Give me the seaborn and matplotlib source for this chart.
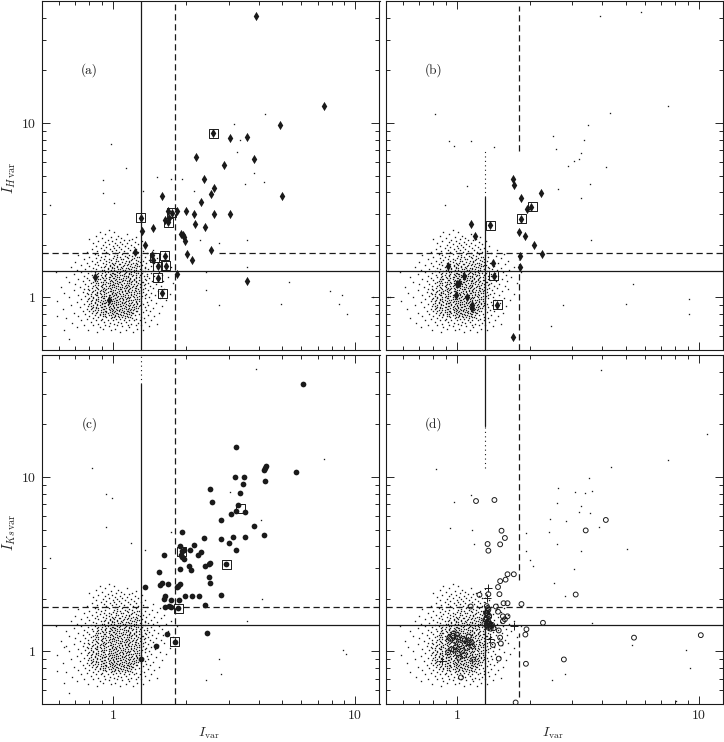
import pandas as pd
import matplotlib
matplotlib.use("Agg")
import matplotlib.pyplot as plt
import seaborn as sns
from matplotlib.ticker import NullFormatter

# shared faint population, read row by row off the stipple (y level: x values)
CLOUD_ROWS = {
    0.63: [1.07], 0.638: [0.86, 1.21], 0.647: [0.98, 1.33], 0.655: [0.79, 1.13], 0.664: [1.02, 1.26, 0.91],
    0.673: [0.71, 0.88, 1.17], 0.682: [0.96, 1.09, 1.41], 0.691: [0.83, 1.04, 1.24], 0.70: [0.76, 0.93, 1.15, 1.31],
    0.709: [0.87, 1.01, 1.19, 1.52], 0.718: [0.68, 0.97, 1.08, 1.27], 0.728: [0.81, 0.92, 1.05, 1.13, 1.36],
    0.738: [0.74, 0.89, 1.00, 1.22, 1.29], 0.747: [0.85, 0.95, 1.11, 1.16, 1.44], 0.757: [0.78, 0.90, 1.03, 1.07, 1.25],
    0.767: [0.64, 0.83, 0.98, 1.12, 1.20, 1.34], 0.777: [0.87, 0.94, 1.01, 1.09, 1.18, 1.30], 0.788: [0.72, 0.80, 0.91, 1.05, 1.14, 1.48],
    0.798: [0.84, 0.96, 1.02, 1.10, 1.23, 1.39], 0.809: [0.77, 0.88, 0.93, 1.07, 1.16, 1.28], 0.82: [0.69, 0.82, 0.99, 1.04, 1.13, 1.21, 1.55],
    0.83: [0.86, 0.91, 0.97, 1.08, 1.19, 1.33], 0.841: [0.75, 0.80, 0.94, 1.02, 1.11, 1.15, 1.26, 1.42], 0.853: [0.84, 0.89, 1.00, 1.06, 1.18, 1.37],
    0.864: [0.62, 0.78, 0.92, 0.96, 1.03, 1.13, 1.22, 1.31], 0.875: [0.82, 0.87, 0.98, 1.09, 1.16, 1.27, 1.47], 0.887: [0.73, 0.85, 0.90, 1.01, 1.05, 1.20, 1.35],
    0.899: [0.79, 0.93, 0.97, 1.08, 1.12, 1.24, 1.60], 0.911: [0.67, 0.83, 0.88, 1.00, 1.15, 1.18, 1.29, 1.40], 0.923: [0.76, 0.86, 0.95, 1.03, 1.07, 1.22, 1.33],
    0.935: [0.81, 0.90, 0.92, 0.99, 1.11, 1.17, 1.26, 1.51], 0.947: [0.71, 0.84, 0.94, 1.05, 1.09, 1.20, 1.38], 0.96: [0.59, 0.78, 0.87, 0.97, 1.01, 1.13, 1.24, 1.31],
    0.973: [0.82, 0.89, 0.93, 1.04, 1.16, 1.19, 1.44, 1.66], 0.985: [0.74, 0.85, 0.96, 1.00, 1.10, 1.23, 1.28], 0.998: [0.80, 0.91, 1.02, 1.07, 1.14, 1.35, 1.56],
    1.011: [0.66, 0.83, 0.87, 0.98, 1.12, 1.18, 1.26, 1.41], 1.025: [0.77, 0.90, 0.94, 1.05, 1.08, 1.21, 1.32], 1.038: [0.72, 0.86, 0.97, 1.01, 1.15, 1.24, 1.49],
    1.052: [0.81, 0.84, 0.92, 1.03, 1.10, 1.19, 1.37, 1.72], 1.066: [0.63, 0.78, 0.88, 0.99, 1.06, 1.13, 1.28, 1.43], 1.08: [0.75, 0.86, 0.95, 1.04, 1.17, 1.22, 1.33],
    1.094: [0.83, 0.91, 0.98, 1.09, 1.12, 1.25, 1.54], 1.108: [0.69, 0.80, 0.89, 1.00, 1.15, 1.20, 1.30, 1.40], 1.123: [0.76, 0.87, 0.94, 1.05, 1.08, 1.27, 1.62],
    1.138: [0.82, 0.92, 0.97, 1.11, 1.18, 1.23, 1.36, 1.47], 1.153: [0.61, 0.73, 0.85, 1.01, 1.07, 1.14, 1.31], 1.168: [0.79, 0.89, 0.96, 1.03, 1.16, 1.21, 1.42, 1.58],
    1.183: [0.84, 0.90, 0.99, 1.09, 1.13, 1.26, 1.34], 1.199: [0.70, 0.77, 0.93, 1.05, 1.19, 1.29, 1.50], 1.215: [0.81, 0.87, 0.95, 1.02, 1.11, 1.17, 1.39, 1.77],
    1.231: [0.66, 0.83, 0.91, 1.00, 1.07, 1.24, 1.32], 1.247: [0.75, 0.86, 0.97, 1.04, 1.14, 1.20, 1.45, 1.61], 1.264: [0.80, 0.92, 0.98, 1.10, 1.16, 1.28, 1.37],
    1.28: [0.72, 0.85, 0.88, 1.03, 1.08, 1.22, 1.53], 1.297: [0.78, 0.94, 1.01, 1.13, 1.18, 1.31, 1.41], 1.314: [0.64, 0.83, 0.90, 0.96, 1.06, 1.25, 1.68],
    1.332: [0.76, 0.87, 0.99, 1.11, 1.15, 1.34, 1.48], 1.349: [0.82, 0.93, 1.04, 1.09, 1.21, 1.29, 1.59], 1.367: [0.69, 0.86, 0.97, 1.02, 1.17, 1.38],
    1.385: [0.79, 0.90, 1.00, 1.12, 1.24, 1.32, 1.44], 1.404: [0.58, 0.74, 0.84, 0.95, 1.07, 1.19, 1.55, 1.84], 1.422: [0.81, 0.88, 1.03, 1.14, 1.27, 1.36],
    1.441: [0.71, 0.92, 0.98, 1.10, 1.22, 1.47, 1.65], 1.46: [0.77, 0.85, 1.05, 1.16, 1.30, 1.40], 1.479: [0.83, 0.95, 1.01, 1.13, 1.25, 1.52],
    1.499: [0.67, 0.89, 0.99, 1.08, 1.20, 1.35, 1.73], 1.519: [0.80, 0.93, 1.04, 1.18, 1.28, 1.43], 1.539: [0.74, 0.87, 0.97, 1.11, 1.23, 1.32],
    1.559: [0.84, 1.00, 1.06, 1.15, 1.26, 1.58], 1.58: [0.78, 0.91, 1.02, 1.21, 1.37, 1.48], 1.6: [0.70, 0.86, 0.96, 1.09, 1.17, 1.29],
    1.622: [0.82, 0.94, 1.05, 1.13, 1.33, 1.62], 1.643: [0.88, 0.98, 1.19, 1.25, 1.41], 1.665: [0.76, 0.92, 1.03, 1.10, 1.30],
    1.687: [0.85, 1.00, 1.15, 1.22, 1.52], 1.709: [0.80, 0.89, 1.07, 1.28, 1.35], 1.732: [0.93, 1.01, 1.12, 1.20, 1.45],
    1.755: [0.72, 0.87, 1.04, 1.17, 1.31], 1.778: [0.84, 0.96, 1.09, 1.24, 1.56], 1.802: [0.90, 1.02, 1.14, 1.38],
    1.825: [0.78, 0.94, 1.06, 1.21, 1.27], 1.85: [0.86, 0.99, 1.11, 1.33], 1.874: [0.92, 1.03, 1.18, 1.47],
    1.899: [0.82, 0.97, 1.08, 1.25], 1.924: [0.89, 1.01, 1.15, 1.30], 1.949: [0.94, 1.06, 1.22],
    1.975: [0.85, 1.00, 1.12, 1.36], 2.001: [0.91, 1.04, 1.19], 2.028: [0.96, 1.09, 1.27],
    2.055: [0.83, 1.02, 1.14], 2.082: [0.93, 1.07, 1.23], 2.11: [0.87, 0.99, 1.32],
    2.138: [0.95, 1.11, 1.17], 2.166: [0.80, 1.03, 1.20], 2.195: [0.90, 1.08],
    2.224: [0.98, 1.25], 2.253: [0.85, 1.05], 2.3: [0.93, 1.14], 2.36: [0.88, 1.01], 2.42: [0.96],
}

# the denser middle of the same population
CORE_ROWS = {
    0.772: [0.99, 1.06, 1.15], 0.783: [0.93, 1.02, 1.12], 0.793: [0.88, 0.98, 1.08, 1.19], 0.803: [0.91, 1.00, 1.05, 1.14],
    0.814: [0.85, 0.95, 1.03, 1.11, 1.20], 0.825: [0.89, 0.94, 1.01, 1.10, 1.17], 0.835: [0.83, 0.93, 0.99, 1.06, 1.14, 1.24], 0.847: [0.87, 0.97, 1.04, 1.09, 1.21],
    0.858: [0.81, 0.91, 0.99, 1.07, 1.15, 1.19], 0.869: [0.85, 0.94, 1.01, 1.11, 1.25], 0.881: [0.83, 0.89, 0.96, 1.04, 1.13, 1.22], 0.893: [0.81, 0.92, 1.00, 1.07, 1.16, 1.28],
    0.905: [0.86, 0.95, 1.03, 1.10, 1.21], 0.917: [0.80, 0.90, 0.98, 1.05, 1.13, 1.26], 0.929: [0.84, 0.93, 1.01, 1.09, 1.19, 1.30], 0.941: [0.88, 0.96, 1.03, 1.12, 1.24],
    0.953: [0.81, 0.91, 0.99, 1.07, 1.15, 1.28], 0.966: [0.85, 0.95, 1.03, 1.10, 1.21], 0.979: [0.79, 0.87, 0.98, 1.06, 1.13, 1.26], 0.991: [0.83, 0.92, 1.02, 1.09, 1.17, 1.31],
    1.004: [0.89, 0.96, 1.04, 1.15, 1.22], 1.018: [0.81, 0.92, 1.00, 1.10, 1.28], 1.031: [0.85, 0.96, 1.03, 1.12, 1.19, 1.35], 1.045: [0.79, 0.89, 0.99, 1.07, 1.22],
    1.059: [0.86, 0.94, 1.02, 1.14, 1.26, 1.31], 1.073: [0.82, 0.92, 1.00, 1.09, 1.19], 1.087: [0.88, 0.97, 1.06, 1.15, 1.28], 1.101: [0.84, 0.93, 1.02, 1.12, 1.23],
    1.115: [0.79, 0.91, 0.98, 1.07, 1.17, 1.33], 1.13: [0.86, 0.95, 1.03, 1.13, 1.25], 1.145: [0.90, 0.99, 1.09, 1.20, 1.29], 1.16: [0.83, 0.94, 1.05, 1.12, 1.24],
    1.176: [0.87, 0.97, 1.01, 1.15, 1.31], 1.191: [0.91, 1.00, 1.08, 1.22, 1.36], 1.207: [0.85, 0.97, 1.04, 1.14, 1.27], 1.223: [0.89, 0.94, 1.06, 1.19, 1.33],
    1.239: [0.84, 0.99, 1.09, 1.16, 1.25], 1.255: [0.93, 1.02, 1.12, 1.22, 1.30], 1.272: [0.87, 0.96, 1.06, 1.18, 1.35], 1.289: [0.91, 1.00, 1.10, 1.24],
    1.306: [0.86, 0.97, 1.04, 1.15, 1.28], 1.323: [0.93, 1.02, 1.13, 1.20, 1.38], 1.34: [0.89, 0.98, 1.07, 1.24], 1.358: [0.94, 1.01, 1.11, 1.19, 1.31],
    1.376: [0.87, 0.99, 1.06, 1.16, 1.27], 1.394: [0.93, 1.04, 1.13, 1.22], 1.413: [0.97, 1.09, 1.18, 1.33], 1.432: [0.90, 1.01, 1.12, 1.25],
    1.451: [0.95, 1.07, 1.19, 1.29], 1.47: [0.99, 1.09, 1.15, 1.36], 1.49: [0.92, 1.04, 1.22], 1.51: [0.97, 1.10, 1.26],
    1.53: [1.01, 1.14, 1.30], 1.55: [0.94, 1.07, 1.19], 1.57: [0.99, 1.12, 1.24], 1.612: [1.03, 1.17, 1.27], 1.654: [0.96, 1.08, 1.20], 1.698: [1.04, 1.14, 1.26],
}

# faint outliers per panel
SPARSE_A_X = [4.24, 3.16, 3.25, 3.34, 3.83, 4.21, 3.50, 0.98, 1.13, 0.91, 0.91, 1.01, 0.55, 1.33, 1.52, 1.74, 1.93, 2.17, 3.58, 2.73, 2.28, 3.58, 2.43, 5.34, 7.86, 8.83, 8.59, 9.21, 4.94, 2.73, 11.9, 2.43, 0.59, 0.63, 0.66]
SPARSE_A_Y = [11.3, 9.87, 6.86, 8.00, 5.18, 4.58, 4.48, 7.59, 5.53, 4.72, 3.96, 3.48, 3.41, 4.10, 4.93, 4.79, 4.79, 4.05, 2.13, 2.06, 2.14, 1.50, 1.40, 1.23, 1.09, 1.03, 0.92, 0.80, 0.92, 0.90, 1.00, 1.10, 0.78, 0.65, 0.58]
SPARSE_B_X = [3.91, 5.78, 7.43, 4.31, 3.50, 2.50, 3.37, 2.57, 3.26, 3.20, 2.89, 3.05, 4.13, 3.54, 2.62, 3.25, 0.93, 0.97, 0.81, 1.14, 1.43, 1.10, 0.89, 3.60, 5.37, 9.14, 9.14, 5.00, 2.75, 2.44, 0.52, 0.53]
SPARSE_B_Y = [41.0, 43.0, 12.5, 11.4, 9.78, 8.47, 8.00, 7.10, 6.71, 6.22, 5.70, 6.09, 5.61, 4.47, 4.16, 3.74, 7.89, 7.39, 11.2, 7.89, 7.30, 4.37, 3.41, 2.13, 1.20, 0.98, 0.80, 0.92, 0.90, 0.69, 1.00, 1.00]
SPARSE_C_X = [3.91, 7.42, 0.82, 0.94, 0.99, 0.94, 1.19, 0.55, 1.36, 1.73, 4.10, 3.03, 4.14, 3.58, 2.73, 2.79, 2.43, 8.87, 9.20, 0.64, 0.59, 0.63, 0.66]
SPARSE_C_Y = [41.7, 12.6, 11.3, 7.98, 7.58, 5.17, 4.18, 3.43, 3.83, 4.82, 5.69, 8.20, 2.00, 1.49, 0.91, 0.74, 0.69, 1.02, 0.97, 1.07, 0.77, 0.66, 0.58]
SPARSE_D_X = [3.93, 10.8, 7.46, 4.33, 3.51, 2.62, 3.08, 3.38, 3.61, 2.60, 3.26, 3.21, 3.56, 2.43, 2.83, 3.86, 2.40, 2.60, 5.05, 3.26, 0.82, 0.97, 1.14, 0.94, 1.15, 1.18, 1.93, 2.00, 2.07, 3.04, 1.93, 2.53, 2.79, 3.61, 5.30, 8.89, 9.18, 8.03, 2.81, 2.47]
SPARSE_D_Y = [40.9, 17.7, 12.5, 11.4, 9.87, 8.65, 8.17, 8.09, 8.35, 7.09, 6.85, 6.30, 6.21, 5.74, 5.62, 5.17, 4.82, 4.15, 3.88, 3.78, 11.1, 7.19, 7.88, 5.10, 4.97, 4.15, 3.75, 3.36, 3.07, 2.97, 4.78, 2.47, 2.08, 1.45, 1.09, 1.02, 0.80, 0.52, 0.74, 0.69]

# panel (a) diamonds
A_X = [3.90, 7.42, 4.90, 2.60, 3.04, 3.58, 2.20, 3.84, 2.88, 2.38, 2.61, 2.55, 4.99, 1.59, 2.31, 1.83, 2.01, 2.17, 2.62, 3.03, 1.68, 1.75, 1.64, 1.68, 1.71, 1.30, 2.19, 2.39, 1.47, 1.32, 1.91, 1.95, 1.97, 1.99, 1.35, 2.53, 1.23, 1.45, 2.03, 2.12, 1.64, 1.47, 1.53, 1.65, 1.84, 3.56, 0.845, 1.53, 1.60, 0.96]
A_Y = [41.1, 12.5, 9.78, 8.73, 8.21, 8.32, 6.42, 6.23, 5.73, 4.79, 4.22, 3.91, 3.84, 3.83, 3.54, 3.13, 3.14, 3.02, 3.02, 2.99, 3.13, 3.05, 2.78, 2.72, 2.84, 2.86, 2.64, 2.55, 2.50, 2.41, 2.30, 2.29, 2.21, 2.11, 2.00, 1.88, 1.82, 1.75, 1.78, 1.63, 1.73, 1.65, 1.51, 1.52, 1.36, 1.25, 1.31, 1.30, 1.06, 0.97]
A_BOX_X = [2.60, 1.30, 1.75, 1.69, 1.64, 1.49, 1.53, 1.65, 1.53, 1.60]
A_BOX_Y = [8.73, 2.86, 3.05, 2.70, 1.73, 1.70, 1.51, 1.52, 1.30, 1.06]

# panel (b) diamonds
B_X = [1.71, 1.72, 2.23, 1.85, 1.95, 2.03, 1.85, 1.37, 1.14, 1.19, 1.80, 1.91, 2.08, 2.25, 1.82, 1.41, 1.83, 0.92, 1.42, 1.07, 1.00, 1.02, 1.47, 1.16, 1.16, 1.70, 1.10, 0.99]
B_Y = [4.79, 4.42, 3.98, 3.74, 3.21, 3.28, 2.83, 2.59, 2.62, 2.26, 2.36, 2.24, 2.00, 1.78, 1.72, 1.58, 1.49, 1.52, 1.33, 1.33, 1.20, 1.21, 0.91, 0.90, 0.87, 0.59, 1.01, 1.03]
B_BOX_X = [2.05, 1.85, 1.38, 1.42, 1.47]
B_BOX_Y = [3.32, 2.83, 2.58, 1.33, 0.91]

# panel (c) filled circles
C_X = [6.10, 3.22, 5.70, 4.30, 4.25, 4.20, 3.18, 3.49, 4.25, 3.44, 2.52, 3.36, 2.57, 3.27, 3.21, 3.51, 3.07, 2.80, 3.83, 1.93, 4.22, 3.52, 3.13, 2.80, 2.38, 3.01, 2.17, 1.89, 3.22, 2.08, 2.31, 2.24, 1.92, 1.96, 1.62, 1.91, 1.93, 1.96, 2.94, 2.52, 2.50, 2.41, 2.06, 2.10, 1.89, 1.55, 2.48, 2.52, 1.59, 1.56, 1.69, 1.89, 1.86, 1.84, 1.36, 2.78, 1.98, 2.13, 2.27, 1.64, 1.63, 1.74, 1.87, 2.41, 1.64, 1.70, 1.74, 1.86, 2.44, 1.67, 1.51, 1.80, 1.31]
C_Y = [34.3, 14.9, 10.7, 11.5, 11.3, 11.0, 9.96, 10.0, 9.48, 9.12, 8.53, 8.09, 7.19, 6.88, 6.35, 6.27, 6.13, 5.69, 5.21, 4.84, 4.65, 4.53, 4.53, 4.43, 4.45, 4.18, 4.09, 4.04, 3.81, 3.81, 3.71, 3.59, 3.77, 3.83, 3.57, 3.56, 3.48, 3.39, 3.17, 3.21, 3.16, 3.08, 3.08, 2.93, 2.98, 2.86, 2.68, 2.47, 2.48, 2.39, 2.42, 2.42, 2.38, 2.33, 2.34, 2.10, 2.08, 2.08, 2.07, 2.08, 2.00, 1.98, 1.96, 1.84, 1.81, 1.82, 1.80, 1.77, 1.27, 1.26, 1.08, 1.14, 0.91]
C_BOX_X = [2.94, 1.91, 1.86, 1.80, 3.35]
C_BOX_Y = [3.17, 3.75, 1.77, 1.14, 6.60]

# panel (d) open circles and plus signs
D_X = [1.20, 1.43, 4.13, 1.53, 3.41, 1.58, 1.51, 1.34, 1.35, 1.62, 1.72, 1.59, 1.51, 1.48, 1.50, 1.24, 1.35, 3.10, 1.56, 1.62, 1.85, 1.14, 1.45, 1.48, 1.55, 1.62, 1.58, 1.55, 2.27, 1.94, 1.49, 1.92, 1.51, 5.40, 10.2, 1.52, 1.41, 2.77, 1.49, 1.93, 1.75, 1.04, 0.94, 1.34, 1.34, 1.34, 1.33, 1.35, 1.33, 1.37, 1.40, 1.32, 1.36, 1.31, 1.38, 0.96, 1.00, 1.01, 1.06, 1.11, 1.15, 0.97, 1.02, 1.17,
       1.33, 1.35, 1.36, 1.32, 1.34, 1.37, 1.33, 1.35, 1.30, 1.39, 1.42, 1.33, 1.36, 0.93, 0.98, 1.03, 1.08, 1.13, 0.99, 0.95, 1.05, 1.10, 1.16, 1.01, 0.92, 1.07, 0.97, 1.12]
D_Y = [7.28, 7.38, 5.67, 4.92, 4.94, 4.47, 4.11, 4.13, 3.78, 2.77, 2.77, 2.58, 2.53, 2.34, 2.13, 2.11, 2.13, 2.12, 1.89, 1.89, 1.87, 1.81, 1.81, 1.69, 1.59, 1.59, 1.53, 1.49, 1.46, 1.34, 1.32, 1.25, 1.20, 1.20, 1.24, 1.11, 1.09, 0.90, 0.91, 0.85, 0.51, 0.71, 1.18, 1.77, 1.70, 1.62, 1.55, 1.49, 1.42, 1.39, 1.42, 1.66, 1.45, 1.52, 1.35, 1.23, 1.25, 1.20, 1.18, 1.13, 1.13, 1.02, 0.92, 0.90,
       1.82, 1.74, 1.58, 1.52, 1.46, 1.44, 1.40, 1.37, 1.44, 1.40, 1.36, 1.66, 1.60, 1.20, 1.15, 1.10, 1.16, 1.12, 1.06, 1.03, 1.01, 1.05, 1.07, 0.97, 0.99, 0.95, 1.27, 1.22]
D_PLUS_X = [1.35, 1.33, 1.73, 1.37, 0.87]
D_PLUS_Y = [2.32, 2.02, 1.40, 1.18, 0.88]

# thresholds
X_SOLID = 1.31
X_DASH = 1.80
Y_SOLID = 1.42
Y_DASH = 1.81
X_LIM = (0.507, 12.6)
Y_LIM = (0.5, 50.0)

# (lo, hi) stretches where each threshold line is still visible in the scan
SPANS = {
    "a": {"xs": [(0.5, 50)], "xd": [(0.5, 48)], "xt": [], "ys": [(0.507, 12.6)], "yd": [(0.507, 1.5), (2.75, 12.6)]},
    "b": {"xs": [(0.5, 3.76)], "xd": [(0.5, 1.67), (6.95, 47)], "xt": [(3.76, 7.0)], "ys": [(0.507, 12.6)], "yd": [(0.507, 12.6)]},
    "c": {"xs": [(0.5, 34)], "xd": [(0.5, 48)], "xt": [(34, 50)], "ys": [(0.507, 12.6)], "yd": [(0.507, 1.42), (1.95, 12.6)]},
    "d": {"xs": [(0.5, 1.42), (19.5, 50)], "xd": [(0.55, 1.27), (2.58, 47)], "xt": [(11.3, 19.5), (1.42, 2.3)], "ys": [(0.507, 12.6)], "yd": [(0.507, 12.6)]},
}

PANEL_LABELS = {"a": "(a)", "b": "(b)", "c": "(c)", "d": "(d)"}
LABEL_X = 0.80
LABEL_Y = 20.0
X_MAJOR = [1, 10]
X_MINOR = [0.6, 0.7, 0.8, 0.9, 2, 3, 4, 5, 6, 7, 8, 9]
Y_MAJOR = [1, 10]
Y_MINOR = [0.6, 0.7, 0.8, 0.9, 2, 3, 4, 5, 6, 7, 8, 9, 20, 30, 40]

sns.set_theme(style="ticks")
plt.rcParams["font.family"] = ["cmr10", "DejaVu Serif"]
plt.rcParams["mathtext.fontset"] = "cm"
plt.rcParams["axes.formatter.use_mathtext"] = True
plt.rcParams["axes.unicode_minus"] = False

W, H = 724.0, 742.0
fig = plt.figure(figsize=(W / 100, H / 100), dpi=100)


def make_axes(left, right, top, bottom):
    return fig.add_axes([left / W, 1 - bottom / H, (right - left) / W, (bottom - top) / H])


axes = {
    "a": make_axes(41.5, 379.5, 1, 350),
    "b": make_axes(385.5, 723, 1, 350),
    "c": make_axes(41.5, 379.5, 355, 704),
    "d": make_axes(385.5, 723, 355, 704),
}

cloud = pd.DataFrame(
    [(x, y) for rows in (CLOUD_ROWS, CORE_ROWS) for y, xs in rows.items() for x in xs],
    columns=["x", "y"],
)


def dots(ax, xs, ys, **kw):
    df = pd.DataFrame({"x": xs, "y": ys})
    sns.scatterplot(data=df, x="x", y="y", ax=ax, legend=False, **kw)


sparse = {
    "a": (SPARSE_A_X, SPARSE_A_Y),
    "b": (SPARSE_B_X, SPARSE_B_Y),
    "c": (SPARSE_C_X, SPARSE_C_Y),
    "d": (SPARSE_D_X, SPARSE_D_Y),
}

for key, ax in axes.items():
    ax.set_xscale("log")
    ax.set_yscale("log")

    # aliased, unsnapped squares come out as single pixels like the scan
    sns.scatterplot(data=cloud, x="x", y="y", ax=ax, legend=False, marker="s",
                    s=0.9, color="k", linewidth=0, antialiased=False, snap=False)
    dots(ax, sparse[key][0], sparse[key][1], marker="s", s=0.9, color="k", linewidth=0,
         antialiased=False, snap=False)

    spans = SPANS[key]
    for lo, hi in spans["xs"]:
        ax.plot([X_SOLID, X_SOLID], [lo, hi], color="k", lw=0.9)
    for lo, hi in spans["xt"]:
        ax.plot([X_SOLID, X_SOLID], [lo, hi], color="k", lw=0.8, ls=(0, (1, 3)))
    for lo, hi in spans["xd"]:
        ax.plot([X_DASH, X_DASH], [lo, hi], color="k", lw=0.9, ls=(0, (5, 3)))
    for lo, hi in spans["ys"]:
        ax.plot([lo, hi], [Y_SOLID, Y_SOLID], color="k", lw=0.9)
    for lo, hi in spans["yd"]:
        ax.plot([lo, hi], [Y_DASH, Y_DASH], color="k", lw=0.9, ls=(0, (5, 3)))

    ax.set_xticks(X_MAJOR)
    ax.set_xticks(X_MINOR, minor=True)
    ax.set_yticks(Y_MAJOR)
    ax.set_yticks(Y_MINOR, minor=True)
    ax.xaxis.set_minor_formatter(NullFormatter())
    ax.yaxis.set_minor_formatter(NullFormatter())
    ax.tick_params(which="major", direction="in", top=True, right=True, length=5.5, width=0.7, labelsize=10, pad=4)
    ax.tick_params(which="minor", direction="in", top=True, right=True, length=3, width=0.7)
    for sp in ax.spines.values():
        sp.set_linewidth(0.8)
        sp.set_color("k")
    ax.set_xticklabels(["1", "10"] if key in "cd" else [])
    ax.set_yticklabels(["1", "10"] if key in "ac" else [])
    ax.text(LABEL_X, LABEL_Y, PANEL_LABELS[key], fontsize=9.5, ha="center", va="center", color="k")

dots(axes["a"], A_X, A_Y, marker="d", s=22, color="k", linewidth=0)
dots(axes["a"], A_BOX_X, A_BOX_Y, marker="s", s=42, facecolor="none", edgecolor="k", linewidth=0.7)
dots(axes["b"], B_X, B_Y, marker="d", s=22, color="k", linewidth=0)
dots(axes["b"], B_BOX_X, B_BOX_Y, marker="s", s=42, facecolor="none", edgecolor="k", linewidth=0.7)
dots(axes["c"], C_X, C_Y, marker="o", s=17, color="k", linewidth=0)
dots(axes["c"], C_BOX_X, C_BOX_Y, marker="s", s=42, facecolor="none", edgecolor="k", linewidth=0.7)
dots(axes["d"], D_X, D_Y, marker="o", s=12, facecolor="none", edgecolor="k", linewidth=0.7)
dots(axes["d"], D_PLUS_X, D_PLUS_Y, marker="+", s=40, color="k", linewidth=0.7)

for ax in axes.values():
    ax.set_xlabel("")
    ax.set_ylabel("")
    ax.set_xlim(*X_LIM)
    ax.set_ylim(*Y_LIM)

fig.text(9 / W, 1 - 178 / H, r"$I_{H\,{\rm var}}$", rotation=90, fontsize=10.5, ha="center", va="center")
fig.text(9 / W, 1 - 532 / H, r"$I_{Ks\,{\rm var}}$", rotation=90, fontsize=10.5, ha="center", va="center")
fig.text(209 / W, 1 - 733 / H, r"$I_{\rm var}$", fontsize=10, ha="center", va="center")
fig.text(553 / W, 1 - 733 / H, r"$I_{\rm var}$", fontsize=10, ha="center", va="center")

fig.savefig("out.png", dpi=100)
